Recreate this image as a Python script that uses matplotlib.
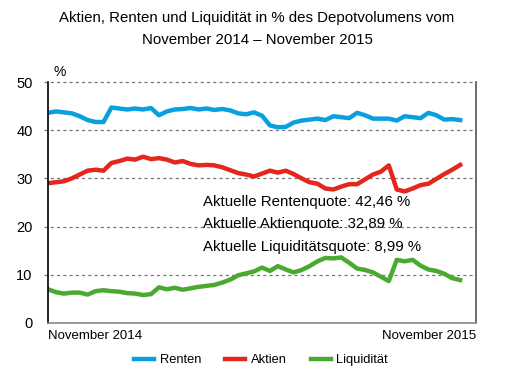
import matplotlib
matplotlib.use("Agg")
import matplotlib.pyplot as plt
import numpy as np

plt.rcParams['font.family'] = ['Liberation Sans', 'DejaVu Sans']

# weekly values, November 2014 - November 2015
renten = [43.6, 43.9, 43.7, 43.5, 42.9, 42.1, 41.7, 41.7, 44.7, 44.5,
          44.3, 44.5, 44.3, 44.6, 43.1, 43.9, 44.3, 44.4, 44.6, 44.3,
          44.5, 44.2, 44.4, 44.1, 43.5, 43.3, 43.7, 43.0, 41.0, 40.6,
          40.7, 41.6, 42.0, 42.2, 42.4, 42.1, 42.9, 42.7, 42.5, 43.6,
          43.1, 42.4, 42.4, 42.4, 42.0, 42.9, 42.7, 42.5, 43.6, 43.1,
          42.2, 42.3, 42.1]
aktien = [29.0, 29.2, 29.4, 30.0, 30.8, 31.6, 31.8, 31.6, 33.2, 33.6,
          34.1, 33.9, 34.5, 34.0, 34.2, 33.9, 33.3, 33.6, 33.0, 32.7,
          32.8, 32.7, 32.3, 31.7, 31.1, 30.8, 30.4, 31.0, 31.6, 31.2,
          31.6, 30.9, 30.0, 29.2, 28.9, 27.9, 27.7, 28.3, 28.8, 28.8,
          29.8, 30.8, 31.4, 32.7, 27.7, 27.3, 27.9, 28.6, 28.9, 29.9,
          30.9, 31.8, 32.8]
liquiditaet = [7.0, 6.4, 6.1, 6.3, 6.3, 5.9, 6.6, 6.8, 6.6, 6.5,
               6.2, 6.1, 5.8, 6.0, 7.4, 7.0, 7.3, 6.9, 7.2, 7.5,
               7.7, 7.9, 8.4, 9.0, 9.9, 10.3, 10.7, 11.5, 10.8, 11.8,
               11.1, 10.5, 11.0, 11.8, 12.8, 13.5, 13.4, 13.6, 12.5, 11.3,
               11.0, 10.5, 9.6, 8.7, 13.1, 12.8, 13.1, 11.9, 11.1, 10.8,
               10.2, 9.3, 8.9]
series_names = ["Renten", "Aktien", "Liquidität"]
colors = ["#0aa0e0", "#e4261c", "#4aaa30"]
info_lines = ["Aktuelle Rentenquote: 42,46 %",
              "Aktuelle Aktienquote: 32,89 %",
              "Aktuelle Liquiditätsquote: 8,99 %"]

x = np.arange(len(renten))

fig = plt.figure(figsize=(5.14, 3.86), dpi=100)
ax = fig.add_axes([48/514, 1-323/386, 428/514, 241/386])

for vals, name, c in zip([renten, aktien, liquiditaet], series_names, colors):
    ax.plot(x, vals, color=c, lw=3.2, label=name, solid_joinstyle='round')

ax.set_xlim(0, 54)
ax.set_ylim(0, 50)
ax.set_yticks([0, 10, 20, 30, 40, 50])
ax.set_xticks([])
ax.tick_params(axis='y', length=0, labelsize=10.5, pad=11)
for yv in [10, 20, 30, 40, 50]:
    ax.axhline(yv, color="#777777", lw=0.9, ls=(0, (2.5, 2.5)), zorder=0,
               xmin=-4/428, clip_on=False)

ax.spines['top'].set_visible(False)
ax.spines['left'].set_color("black")
ax.spines['left'].set_linewidth(1.2)
ax.spines['right'].set_color("#555555")
ax.spines['right'].set_linewidth(1.2)
ax.spines['bottom'].set_color("#888888")
ax.spines['bottom'].set_linewidth(1.2)

ax.text(0.0, -0.03, "November 2014", transform=ax.transAxes, ha='left', va='top', fontsize=9.5)
ax.text(1.0, -0.03, "November 2015", transform=ax.transAxes, ha='right', va='top', fontsize=9.5)
ax.text(60/514, 1-72/386, "%", transform=fig.transFigure, ha='center', va='center', fontsize=10)

for i, line in enumerate(info_lines):
    fig.text(203/514, 1-(202+i*22.5)/386, line, ha='left', va='center', fontsize=10.8)

fig.text(0.5, 1-18/386, "Aktien, Renten und Liquidität in % des Depotvolumens vom",
         ha='center', va='center', fontsize=10.8)
fig.text(0.5, 1-40/386, "November 2014 – November 2015",
         ha='center', va='center', fontsize=10.8)

fig.legend(loc='center', bbox_to_anchor=(261/514, 1-360/386), ncol=3, frameon=False,
           fontsize=9.3, handlelength=1.55, handletextpad=0.45, columnspacing=1.85)

fig.savefig("out.png", dpi=100)
